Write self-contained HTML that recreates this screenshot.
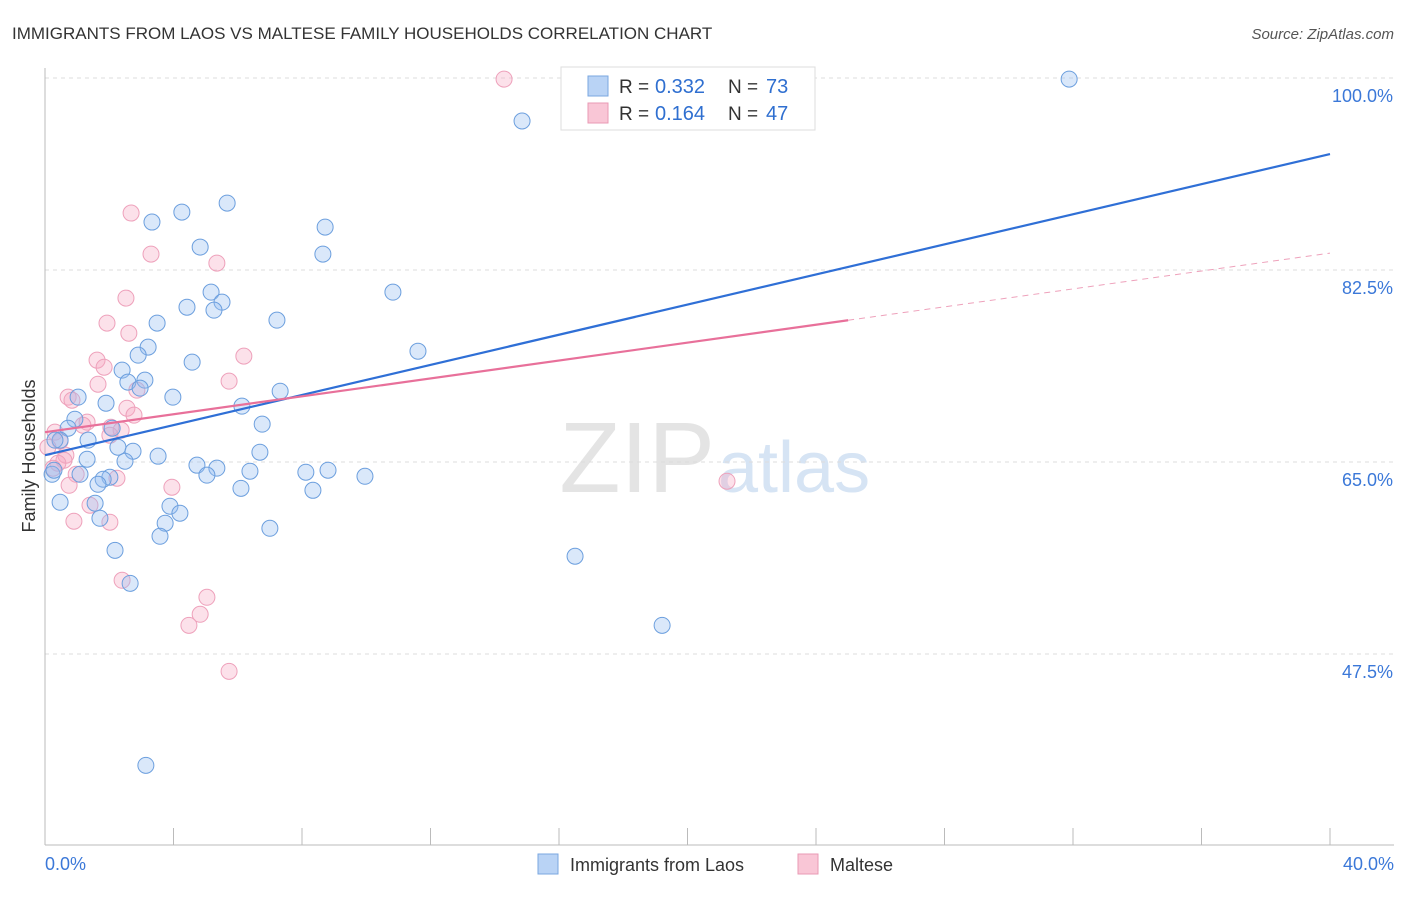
<!DOCTYPE html>
<html><head><meta charset="utf-8"><style>
body{margin:0;background:#fff;font-family:"Liberation Sans",sans-serif}
svg text{font-family:"Liberation Sans",sans-serif}
</style></head><body>
<svg width="1406" height="892">
<text x="12" y="39" font-size="17" fill="#333">IMMIGRANTS FROM LAOS VS MALTESE FAMILY HOUSEHOLDS CORRELATION CHART</text>
<text x="1394" y="39" font-size="15" fill="#555" font-style="italic" text-anchor="end">Source: ZipAtlas.com</text>
<text x="715" y="492" font-size="100" fill="#e4e4e4" text-anchor="end" font-family="Liberation Serif">ZIP</text>
<text x="718" y="492" font-size="72" fill="#d6e4f4">atlas</text>
<g id="grid"></g><g id="axes"></g><g id="pts"></g><g id="lines"></g>
<text transform="translate(35,456) rotate(-90)" font-size="18" fill="#333" text-anchor="middle">Family Households</text>
<text x="45" y="870" font-size="18" fill="#3b78d8">0.0%</text>
<text x="1394" y="870" font-size="18" fill="#3b78d8" text-anchor="end">40.0%</text>
<g>
<rect x="561" y="67" width="254" height="63" fill="#fff" stroke="#ddd"/>
<rect x="588" y="76" width="20" height="20" fill="#b9d3f5" stroke="#7aa7e0"/>
<rect x="588" y="103" width="20" height="20" fill="#f9c6d6" stroke="#e99ab4"/>
<text x="619" y="93" font-size="19" fill="#333">R =</text>
<text x="655" y="93" font-size="20" fill="#2f6fd0">0.332</text>
<text x="728" y="93" font-size="19" fill="#333">N =</text>
<text x="766" y="93" font-size="20" fill="#2f6fd0">73</text>
<text x="619" y="120" font-size="19" fill="#333">R =</text>
<text x="655" y="120" font-size="20" fill="#2f6fd0">0.164</text>
<text x="728" y="120" font-size="19" fill="#333">N =</text>
<text x="766" y="120" font-size="20" fill="#2f6fd0">47</text>
</g>
<g>
<rect x="538" y="854" width="20" height="20" fill="#b9d3f5" stroke="#7aa7e0"/>
<text x="570" y="871" font-size="18" fill="#333">Immigrants from Laos</text>
<rect x="798" y="854" width="20" height="20" fill="#f9c6d6" stroke="#e99ab4"/>
<text x="830" y="871" font-size="18" fill="#333">Maltese</text>
</g>
</svg>
<script>
const yTicks=[100,82.5,65,47.5];
const blueX=[31.88,14.85,5.67,4.26,3.33,8.72,4.83,8.65,10.83,5.17,4.42,5.51,5.26,7.22,3.49,3.21,11.61,2.9,4.58,2.4,2.58,3.11,2.96,3.98,7.32,1.03,1.9,6.13,0.93,6.76,0.72,2.09,1.34,0.47,0.31,2.27,2.74,6.69,3.52,1.31,2.49,4.73,5.35,5.04,6.38,8.12,8.81,9.96,1.09,0.22,2.02,1.81,1.65,6.1,8.34,3.89,0.47,1.56,4.2,3.74,1.71,7.0,3.58,2.18,16.5,2.65,19.21,3.14,0.28];
const blueY=[99.9,96.08,88.6,87.78,86.87,86.41,84.59,83.95,80.48,80.48,79.11,79.57,78.84,77.93,77.66,75.47,75.1,74.74,74.1,73.37,72.28,72.46,71.73,70.91,71.45,70.91,70.36,70.09,68.9,68.45,68.08,68.08,66.99,66.99,66.99,66.35,65.98,65.89,65.53,65.25,65.07,64.71,64.44,63.8,64.16,64.07,64.25,63.7,63.88,63.88,63.61,63.43,62.97,62.6,62.42,60.97,61.33,61.24,60.33,59.42,59.87,58.96,58.23,56.95,56.41,53.94,50.11,37.35,64.25];
const pinkX=[14.29,2.68,3.3,5.35,2.52,1.93,2.61,6.19,1.62,1.84,5.73,1.65,2.86,0.72,0.84,2.55,2.77,1.31,1.18,2.05,2.37,0.31,2.02,0.47,0.09,0.65,0.59,0.4,0.25,0.97,2.24,3.95,0.75,1.4,2.02,0.9,2.4,5.04,4.83,4.48,5.73,21.23];
const pinkY=[99.9,87.69,83.95,83.13,79.94,77.66,76.74,74.65,74.28,73.64,72.37,72.09,71.55,70.91,70.63,69.9,69.27,68.63,68.35,68.17,67.9,67.72,67.44,66.9,66.35,65.62,65.16,64.89,64.43,63.88,63.52,62.7,62.88,61.06,59.51,59.6,54.22,52.67,51.12,50.11,45.92,63.25];
const blueTrend=[65.62,93.07];
const pinkTrend=[67.72,84.04];
const pinkSolidEnd=25;
const xTicks=[0,4,8,12,16,20,24,28,32,36,40];
const NS='http://www.w3.org/2000/svg';
const sx=v=>45+v*1285/40;
const sy=v=>78+(100-v)*192/17.5;
function mk(tag,attrs,parent){const e=document.createElementNS(NS,tag);for(const k in attrs)e.setAttribute(k,attrs[k]);document.getElementById(parent).appendChild(e);return e;}
yTicks.forEach(t=>{
 const l=mk('line',{x1:45,x2:1394,y1:sy(t),y2:sy(t),stroke:'#ddd','stroke-dasharray':'4,4'},'grid');
 
 
 const tx=mk('text',{x:1393,y:sy(t)+24,'font-size':18,fill:'#3b78d8','text-anchor':'end'},'grid');
 tx.textContent=t.toFixed(1)+'%';
 
 
});
let a=mk('line',{x1:45,x2:45,y1:68,y2:845,stroke:'#bbb'},'axes');


a=mk('line',{x1:45,x2:1394,y1:845,y2:845,stroke:'#bbb'},'axes');


xTicks.forEach(t=>{
 const l=mk('line',{x1:sx(t),x2:sx(t),y1:828,y2:845,stroke:'#bbb'},'axes');
 
 
});
pinkX.forEach((x,i)=>{
 const c=mk('circle',{cx:sx(x),cy:sy(pinkY[i]),r:8,fill:'rgba(246,170,195,0.35)',stroke:'#eea1bb','stroke-width':1},'pts');
 
 
});
blueX.forEach((x,i)=>{
 const c=mk('circle',{cx:sx(x),cy:sy(blueY[i]),r:8,fill:'rgba(150,190,240,0.35)',stroke:'#6c9fde','stroke-width':1},'pts');
 
 
});
const pAt=x=>pinkTrend[0]+(pinkTrend[1]-pinkTrend[0])*x/40;
let t=mk('line',{x1:sx(0),y1:sy(blueTrend[0]),x2:sx(40),y2:sy(blueTrend[1]),stroke:'#2f6fd6','stroke-width':2.2},'lines');


t=mk('line',{x1:sx(0),y1:sy(pAt(0)),x2:sx(pinkSolidEnd),y2:sy(pAt(pinkSolidEnd)),stroke:'#e8709a','stroke-width':2.2},'lines');


t=mk('line',{x1:sx(pinkSolidEnd),y1:sy(pAt(pinkSolidEnd)),x2:sx(40),y2:sy(pAt(40)),stroke:'#eea1bb','stroke-width':1,'stroke-dasharray':'6,5'},'lines');


</script>
</body></html>
